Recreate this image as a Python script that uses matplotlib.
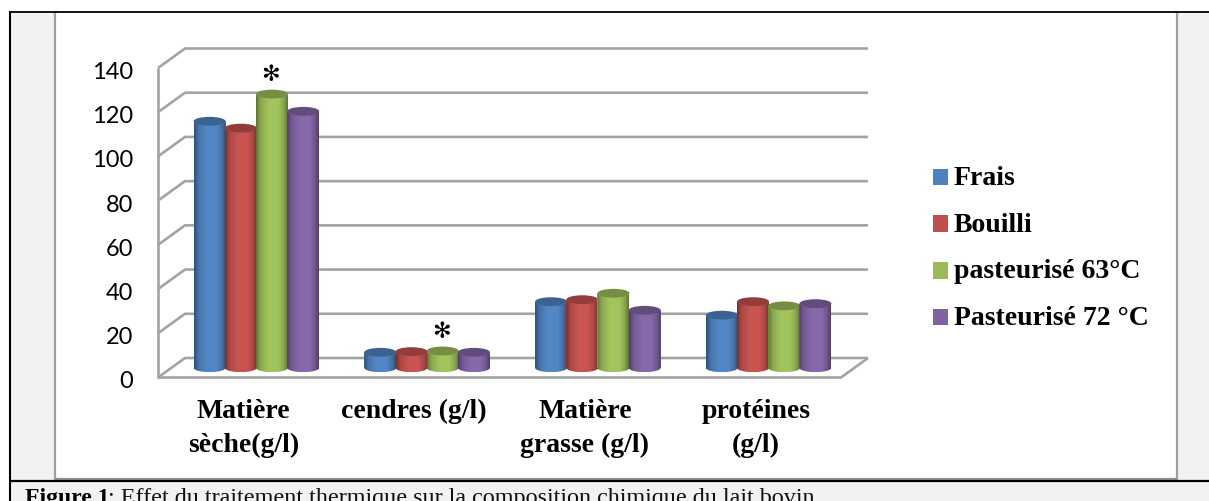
import numpy as np
import matplotlib
matplotlib.use("Agg")
import matplotlib.pyplot as plt
from matplotlib.path import Path
from matplotlib.patches import PathPatch, Ellipse, Rectangle
from matplotlib.colors import LinearSegmentedColormap, to_rgb
from matplotlib.transforms import Affine2D

categories = ["Matière\nsèche(g/l)", "cendres (g/l)", "Matière\ngrasse (g/l)", "protéines\n(g/l)"]
series_names = ["Frais", "Bouilli", "pasteurisé 63°C", "Pasteurisé 72 °C"]
frais = [111.5, 7, 29.9, 23.8]
bouilli = [108.4, 7.3, 30.8, 29.9]
past63 = [123.8, 7.6, 33.7, 28]
past72 = [116, 7, 26, 29]
series = [frais, bouilli, past63, past72]
colors = ["#4F81BD", "#C0504D", "#9BBB59", "#8064A2"]
yticks = [0, 20, 40, 60, 80, 100, 120, 140]
stars = [(0, 2, 123.8), (1, 2, 7.6)]

W, H = 1209, 502
fig = plt.figure(figsize=(W / 100, H / 100), dpi=100, facecolor="white")

# page table background
bg = fig.add_axes([0, 0, 1, 1], zorder=0)
bg.set_xlim(0, W); bg.set_ylim(H, 0); bg.axis("off")
bg.add_patch(Rectangle((10, 12), W - 10, H - 12, fc="#F2F2F2", ec="none"))
bg.add_patch(Rectangle((55, 12), 1122, 468, fc="white", ec="none"))
cap = dict(solid_capstyle="butt")
bg.plot([55, 55], [12, 481], color="#A0A0A0", lw=1.6, **cap)
bg.plot([1177, 1177], [12, 481], color="#A0A0A0", lw=1.6, **cap)
bg.plot([55, 1177], [480, 480], color="#909090", lw=1.6, **cap)
bg.plot([10, 10], [11.5, H], color="black", lw=1.5, **cap)
bg.plot([10, W], [12.5, 12.5], color="black", lw=1.3, **cap)
bg.plot([10, W], [482, 482], color="black", lw=1.6, **cap)
bg.text(25, 504, "Figure 1", fontfamily="Liberation Serif", fontweight="bold", fontsize=17,
        va="baseline", ha="left", color="black")
bg.text(108, 504, ": Effet du traitement thermique sur la composition chimique du lait bovin",
        fontfamily="Liberation Serif", fontsize=17.4, va="baseline", ha="left", color="#111111")

# plot front plane: x 158..841 px, y 378.5..69 px
left, right, bottom, top = 158, 841, 378.5, 69
ax = fig.add_axes([left / W, 1 - bottom / H, (right - left) / W, (bottom - top) / H], zorder=1)
ax.patch.set_alpha(0)
for s in ax.spines.values():
    s.set_visible(False)
xu = (right - left) / 4
yu = (bottom - top) / 140
dx, dy = 27 / xu, 19.5 / yu          # depth of the 3-D floor
grid_c = "#A3A3A3"
for v in yticks:
    ax.plot([0, dx, 4 + dx], [v, v + dy, v + dy], color=grid_c, lw=1.9, clip_on=False, zorder=1,
            solid_joinstyle="miter", solid_capstyle="butt")
ax.plot([0, 0], [0, 140], color=grid_c, lw=1.9, clip_on=False, zorder=1, solid_capstyle="butt")
ax.plot([0, 4, 4 + dx], [0, 0, dy], color=grid_c, lw=1.9, clip_on=False, zorder=1,
        solid_joinstyle="miter", solid_capstyle="butt")

# cylinders
bw = 32 / xu
step = 31.2 / xu
eh = 4.4 / yu
cx0, cy0 = 13 / xu, 9.75 / yu
cats = np.arange(4) + 0.5 + cx0
handles = []
t = np.linspace(0, 1, 64)
for k, (vals, c) in enumerate(zip(series, colors)):
    xs = cats + (k - 1.5) * step
    rgb = np.array(to_rgb(c))
    dark = rgb * 0.62
    light = np.clip(rgb * 1.05, 0, 1)
    cmap = LinearSegmentedColormap.from_list(
        "c", [(0, dark), (0.14, rgb * 0.9), (0.4, light), (0.7, light), (0.88, rgb * 0.88), (1, dark)])
    zb = 3 + k * 0.1
    bars = ax.bar(xs, vals, bw, bottom=cy0, color=c, zorder=zb, linewidth=0, clip_on=False, label=series_names[k])
    handles.append(bars)
    for b, v in zip(bars, vals):
        x0, x1 = b.get_x(), b.get_x() + b.get_width()
        mid, a = (x0 + x1) / 2, (x1 - x0) / 2
        th = np.linspace(np.pi, 2 * np.pi, 40)
        low = np.c_[mid + a * np.cos(th), cy0 + eh * np.sin(th)]
        up = np.c_[mid + a * np.cos(th[::-1]), cy0 + v + eh * np.sin(th[::-1])]
        verts = np.vstack([low, up, low[:1]])
        path = Path(verts, closed=True)
        body = PathPatch(path, transform=ax.transData, fc="none", ec="none")
        ax.add_patch(body)
        im = ax.imshow(t[None, :], cmap=cmap, extent=[x0, x1, cy0 - eh, cy0 + v + eh], aspect="auto",
                       zorder=zb + 0.01, interpolation="bilinear")
        im.set_clip_path(body)
        ax.add_patch(Ellipse((mid, cy0 + v), 2 * a, 2 * eh, fc=rgb * 0.76, ec="none", zorder=zb + 0.02, clip_on=False))

for g, s, v in stars:
    ax.text(cats[g] + (s - 1.5) * step - 1.5 / xu, cy0 + v + 20 / yu, "\u273B", fontfamily="DejaVu Sans",
            fontsize=16, fontweight="bold", ha="center", va="center", color="black", zorder=6, clip_on=False)

ax.set_xlim(0, 4)
ax.set_ylim(0, 140)
ax.set_yticks(yticks)
ax.set_yticklabels([str(v) for v in yticks], fontfamily="Lato", fontsize=17, color="black")
ax.set_xticks(np.arange(4) + 0.5)
ax.set_xticklabels(categories, fontfamily="Liberation Serif", fontweight="bold", fontsize=20, color="black",
                   linespacing=1.45)
ax.tick_params(axis="y", length=0, pad=18)
ax.tick_params(axis="x", length=0, pad=15)
for lab in ax.get_yticklabels():
    lab.set_transform(lab.get_transform() + Affine2D().translate(0, -1.5))

leg = ax.legend(handles=handles, loc="upper left", bbox_to_anchor=(933 / W, 1 - 166 / H),
                bbox_transform=fig.transFigure, frameon=False, borderpad=0, borderaxespad=0,
                handlelength=0.54, handleheight=0.54, handletextpad=0.2, labelspacing=0.78,
                prop={"family": "Liberation Serif", "weight": "bold", "size": 20})
for p in leg.get_patches():
    p.set_y(p.get_y() - 2)

fig.savefig("out.png", dpi=100)
